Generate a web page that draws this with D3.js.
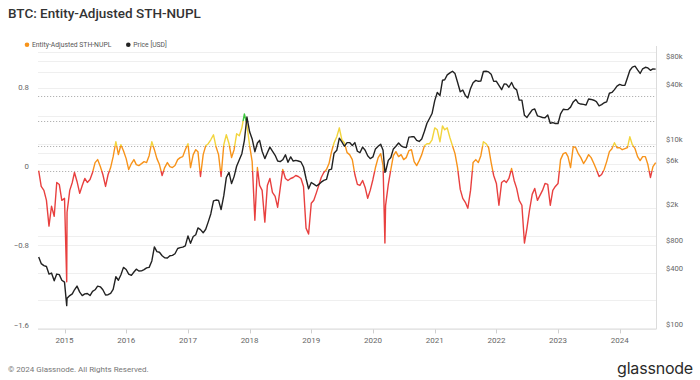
<!DOCTYPE html>
<html><head><meta charset="utf-8">
<script src="https://cdn.jsdelivr.net/npm/d3@7"></script>
<style>
body{margin:0;background:#fff;}
svg{display:block;font-family:Roboto,Inter,"Open Sans",sans-serif;}
</style>
</head><body>
<svg id="c" width="700" height="380"></svg>
<script>
// ---------------- DATA ----------------
const dates = [
 "2014-08-01","2014-08-16","2014-09-01","2014-09-16","2014-10-01","2014-10-16","2014-11-01","2014-11-16","2014-12-01","2014-12-16",
 "2015-01-01","2015-01-14","2015-01-16","2015-02-01","2015-02-16","2015-03-01","2015-03-16","2015-04-01","2015-04-16","2015-05-01","2015-05-16","2015-06-01","2015-06-16","2015-07-01","2015-07-16","2015-08-01","2015-08-16","2015-09-01","2015-09-16","2015-10-01","2015-10-16","2015-11-01","2015-11-16","2015-12-01","2015-12-16",
 "2016-01-01","2016-01-16","2016-02-01","2016-02-16","2016-03-01","2016-03-16","2016-04-01","2016-04-16","2016-05-01","2016-05-16","2016-06-01","2016-06-16","2016-07-01","2016-07-16","2016-08-01","2016-08-16","2016-09-01","2016-09-16","2016-10-01","2016-10-16","2016-11-01","2016-11-16","2016-12-01","2016-12-16",
 "2017-01-01","2017-01-16","2017-02-01","2017-02-16","2017-03-01","2017-03-16","2017-04-01","2017-04-16","2017-05-01","2017-05-16","2017-06-01","2017-06-16","2017-07-01","2017-07-16","2017-08-01","2017-08-16","2017-09-01","2017-09-16","2017-10-01","2017-10-16","2017-11-01","2017-11-16","2017-12-01","2017-12-16",
 "2018-01-01","2018-01-16","2018-02-01","2018-02-16","2018-03-01","2018-03-16","2018-04-01","2018-04-16","2018-05-01","2018-05-16","2018-06-01","2018-06-16","2018-07-01","2018-07-16","2018-08-01","2018-08-16","2018-09-01","2018-09-16","2018-10-01","2018-10-16","2018-11-01","2018-11-16","2018-12-01","2018-12-16",
 "2019-01-01","2019-01-16","2019-02-01","2019-02-16","2019-03-01","2019-03-16","2019-04-01","2019-04-16","2019-05-01","2019-05-16","2019-06-01","2019-06-16","2019-07-01","2019-07-16","2019-08-01","2019-08-16","2019-09-01","2019-09-16","2019-10-01","2019-10-16","2019-11-01","2019-11-16","2019-12-01","2019-12-16",
 "2020-01-01","2020-01-16","2020-02-01","2020-02-16","2020-03-01","2020-03-12","2020-03-16","2020-04-01","2020-04-16","2020-05-01","2020-05-16","2020-06-01","2020-06-16","2020-07-01","2020-07-16","2020-08-01","2020-08-16","2020-09-01","2020-09-16","2020-10-01","2020-10-16","2020-11-01","2020-11-16","2020-12-01","2020-12-16",
 "2021-01-01","2021-01-16","2021-02-01","2021-02-16","2021-03-01","2021-03-16","2021-04-01","2021-04-16","2021-05-01","2021-05-16","2021-06-01","2021-06-16","2021-07-01","2021-07-16","2021-08-01","2021-08-16","2021-09-01","2021-09-16","2021-10-01","2021-10-16","2021-11-01","2021-11-16","2021-12-01","2021-12-16",
 "2022-01-01","2022-01-16","2022-02-01","2022-02-16","2022-03-01","2022-03-16","2022-04-01","2022-04-16","2022-05-01","2022-05-16","2022-06-01","2022-06-16","2022-07-01","2022-07-16","2022-08-01","2022-08-16","2022-09-01","2022-09-16","2022-10-01","2022-10-16","2022-11-01","2022-11-16","2022-12-01","2022-12-16",
 "2023-01-01","2023-01-16","2023-02-01","2023-02-16","2023-03-01","2023-03-16","2023-04-01","2023-04-16","2023-05-01","2023-05-16","2023-06-01","2023-06-16","2023-07-01","2023-07-16","2023-08-01","2023-08-16","2023-09-01","2023-09-16","2023-10-01","2023-10-16","2023-11-01","2023-11-16","2023-12-01","2023-12-16",
 "2024-01-01","2024-01-16","2024-02-01","2024-02-16","2024-03-01","2024-03-16","2024-04-01","2024-04-16","2024-05-01","2024-05-16","2024-06-01","2024-06-16","2024-07-01","2024-07-16","2024-08-01"
];

// Entity-Adjusted STH-NUPL
const nupl = [
 0.00,-0.16,-0.20,-0.30,-0.56,-0.36,-0.46,-0.12,-0.14,-0.30,
 -0.28,-1.12,-0.42,-0.20,-0.12,-0.02,-0.11,-0.23,-0.15,-0.08,-0.12,-0.09,-0.02,0.08,0.11,0.04,-0.04,-0.16,-0.04,0.03,0.14,0.29,0.16,0.26,0.20,
 0.12,0.01,0.07,0.11,0.06,0.05,0.07,0.09,0.08,0.15,0.29,0.21,0.12,0.06,-0.05,0.03,0.08,0.04,0.03,0.05,0.11,0.13,0.14,0.21,
 0.27,0.03,0.16,0.21,0.19,-0.06,0.16,0.25,0.27,0.31,0.36,0.24,0.16,-0.06,0.26,0.36,0.27,0.13,0.21,0.37,0.35,0.43,0.57,0.46,
 0.25,0.09,-0.50,0.03,-0.15,-0.20,-0.52,-0.15,-0.08,-0.22,-0.26,-0.37,-0.18,0.01,-0.08,-0.10,-0.08,-0.07,-0.05,-0.06,-0.08,-0.16,-0.58,-0.64,
 -0.33,-0.30,-0.22,-0.14,-0.07,-0.02,0.01,0.07,0.19,0.28,0.34,0.43,0.31,0.28,0.18,0.16,0.11,-0.04,-0.14,-0.15,-0.10,-0.17,-0.28,-0.20,
 -0.09,0.03,0.13,0.17,0.05,-0.73,-0.35,-0.14,0.01,0.15,0.19,0.14,0.16,0.11,0.13,0.20,0.21,0.09,0.05,0.10,0.16,0.25,0.27,0.27,0.31,
 0.43,0.41,0.29,0.45,0.41,0.43,0.33,0.25,0.17,0.03,-0.19,-0.28,-0.32,-0.38,-0.20,0.08,0.11,0.08,0.15,0.29,0.27,0.23,0.08,-0.05,
 -0.13,-0.35,-0.12,-0.10,-0.12,-0.08,0.02,-0.10,-0.18,-0.30,-0.35,-0.73,-0.58,-0.40,-0.24,-0.18,-0.30,-0.25,-0.20,-0.13,-0.14,-0.35,-0.20,-0.16,
 -0.13,0.11,0.17,0.18,0.14,0.03,0.24,0.23,0.17,0.13,0.07,0.11,0.16,0.13,0.07,0.01,-0.06,-0.04,0.01,0.09,0.19,0.22,0.28,0.23,
 0.23,0.21,0.22,0.23,0.34,0.26,0.22,0.14,0.10,0.14,0.14,0.06,-0.07,0.04,0.08
];

// Price [USD]
const price = [
 590,500,475,465,385,395,325,385,380,330,
 315,175,210,225,235,260,285,245,225,235,237,225,250,260,285,280,260,228,230,237,262,360,330,378,455,
 432,385,373,405,435,416,417,430,450,455,535,760,675,665,608,578,575,608,615,640,730,745,755,780,
 1000,830,985,1030,1220,1170,1080,1180,1420,1730,2400,2450,2430,1930,2730,4300,4900,3700,4400,5700,6700,7800,10900,19500,
 13500,11300,8200,10200,10900,8300,6900,8000,9200,8300,7500,6500,6400,6700,7600,6300,7200,6500,6600,6500,6350,5600,4200,3250,
 3800,3650,3480,3650,3830,4000,4100,5200,5300,7900,8500,11500,10500,9400,10300,10300,9600,10300,8300,8000,9200,8500,7400,6900,
 7200,8800,9400,9900,8500,4900,5000,6600,7100,8800,9400,10200,9500,9200,9100,11800,11900,11900,10900,10600,11300,13700,16700,18800,21300,
 29400,36000,33500,49000,49600,56000,58900,61300,57800,46500,36700,38300,33500,31500,39900,46000,48800,47700,48100,60900,61300,60300,57000,47600,
 47700,43100,38700,44500,44400,41100,46300,40400,38500,29800,29800,20400,19300,21200,23300,23900,20100,19700,19300,19200,20500,16700,17000,16600,
 16600,21100,23700,23500,23600,25000,28500,30300,27600,27000,26800,26300,30600,30300,29700,28700,25800,26600,27900,28500,35400,36100,38700,42300,
 44200,43100,43100,52100,62400,68000,69700,63400,58000,65200,67700,66600,62700,65000,64600
];

const leftTicks = [0.8, 0, -0.8, -1.6];
const rightTicks = [100, 400, 800, 2000, 6000, 10000, 40000, 80000];
const rightTickLabels = ["$100","$400","$800","$2k","$6k","$10k","$40k","$80k"];
const priceGrid = [200, 1000, 8000, 20000, 60000, 100000];
const thresholds = [0, 0.25, 0.5, 0.75];
const years = ["2015","2016","2017","2018","2019","2020","2021","2022","2023","2024"];
const bandColors = {blue:"#3d7fe0", green:"#3fc63f", yellow:"#f2d43c", orange:"#f7931a", red:"#e8403f"};

// ---------------- CHART ----------------
const parse = d3.timeParse("%Y-%m-%d");
const rows = dates.map((d,i)=>({date:parse(d), v:nupl[i], p:price[i]}));

const svg = d3.select("#c");
const X0 = 38, X1 = 656;
const x = d3.scaleTime().domain([parse("2014-07-28"), parse("2024-08-03")]).range([X0, X1]);
const yL = d3.scaleLinear().domain([-1.6, 0.8]).range([329.4, 91.1]);
const yR = d3.scaleLog().domain([100, 80000]).range([328, 60.6]);
const BOTTOM = 329.4;

// light gridlines
const gridVals = rightTicks.concat(priceGrid);
svg.append("g").selectAll("line").data(gridVals).join("line")
  .attr("x1", X0).attr("x2", X1)
  .attr("y1", d=>Math.round(yR(d))+0.5).attr("y2", d=>Math.round(yR(d))+0.5)
  .attr("stroke", "#efefef").attr("stroke-width", 1);

// threshold dotted lines
svg.append("g").selectAll("line").data(thresholds).join("line")
  .attr("x1", X0).attr("x2", X1)
  .attr("y1", d=>Math.round(yL(d))+0.5).attr("y2", d=>Math.round(yL(d))+0.5)
  .attr("stroke", "#a0a0a0").attr("stroke-width", 0.8).attr("stroke-dasharray", "1.2,1.8");

// bottom axis line & right border
svg.append("line").attr("x1", X0).attr("x2", X1).attr("y1", BOTTOM).attr("y2", BOTTOM)
  .attr("stroke", "#e2e2e2");
svg.append("line").attr("x1", X1+0.5).attr("x2", X1+0.5).attr("y1", 46).attr("y2", BOTTOM)
  .attr("stroke", "#dcdcdc");

// year ticks & labels
const yearDates = years.map(y=>parse(y+"-01-01"));
svg.append("g").selectAll("line").data(yearDates).join("line")
  .attr("x1", d=>Math.round(x(d))+0.5).attr("x2", d=>Math.round(x(d))+0.5)
  .attr("y1", BOTTOM).attr("y2", BOTTOM+4).attr("stroke", "#cfcfcf");
svg.append("g").selectAll("text").data(years).join("text")
  .attr("x", (d,i)=>x(yearDates[i])).attr("y", 343)
  .attr("text-anchor", "middle").attr("font-size", 8).attr("fill", "#666")
  .text(d=>d);

// left axis labels
svg.append("g").selectAll("text").data(leftTicks).join("text")
  .attr("x", 29).attr("y", d=>yL(d)-1.5)
  .attr("text-anchor", "end").attr("font-size", 7.8).attr("fill", "#666")
  .text(d=>d===0?"0":d3.format(".1f")(d));

// right axis labels
svg.append("g").selectAll("text").data(rightTicks).join("text")
  .attr("x", 666).attr("y", d=>yR(d)-1.5)
  .attr("text-anchor", "start").attr("font-size", 7.6).attr("fill", "#666")
  .text((d,i)=>rightTickLabels[i]);

// gradient for NUPL coloring by value
const defs = svg.append("defs");
const gTop = yL(1.3), gBot = yL(-1.6);
const off = v => (yL(v)-gTop)/(gBot-gTop);
const stops = [
  [0, bandColors.blue],[off(0.75), bandColors.blue],
  [off(0.75), bandColors.green],[off(0.5), bandColors.green],
  [off(0.5), bandColors.yellow],[off(0.25), bandColors.yellow],
  [off(0.25), bandColors.orange],[off(0), bandColors.orange],
  [off(0), bandColors.red],[1, bandColors.red]
];
const grad = defs.append("linearGradient").attr("id","nuplGrad")
  .attr("gradientUnits","userSpaceOnUse")
  .attr("x1",0).attr("x2",0).attr("y1",gTop).attr("y2",gBot);
grad.selectAll("stop").data(stops).join("stop")
  .attr("offset", d=>d[0]).attr("stop-color", d=>d[1]);

// NUPL line
svg.append("path").datum(rows)
  .attr("fill","none").attr("stroke","url(#nuplGrad)").attr("stroke-width",1.4)
  .attr("stroke-linejoin","round")
  .attr("d", d3.line().x(d=>x(d.date)).y(d=>yL(d.v)));

// Price line
svg.append("path").datum(rows)
  .attr("fill","none").attr("stroke","#222").attr("stroke-width",1.4)
  .attr("stroke-linejoin","round")
  .attr("d", d3.line().x(d=>x(d.date)).y(d=>yR(d.p)));

// title
svg.append("text").attr("x", 8).attr("y", 17.5).attr("font-size", 13.5).attr("font-weight", 500)
  .attr("fill", "#333").text("BTC: Entity-Adjusted STH-NUPL");

// legend
const legend = [
  {label:"Entity-Adjusted STH-NUPL", color:bandColors.orange, x:27},
  {label:"Price [USD]", color:"#222", x:128.3}
];
const lg = svg.append("g").selectAll("g").data(legend).join("g");
lg.append("circle").attr("cx", d=>d.x).attr("cy", 44.7).attr("r", 2.3).attr("fill", d=>d.color);
lg.append("text").attr("x", d=>d.x+5).attr("y", 47).attr("font-size", 6.8).attr("fill", "#555")
  .text(d=>d.label);

// footer
svg.append("text").attr("x", 8).attr("y", 372).attr("font-size", 8).attr("fill", "#777")
  .text("© 2024 Glassnode. All Rights Reserved.");
svg.append("text").attr("x", 693).attr("y", 374).attr("text-anchor","end")
  .attr("font-family", "Inter, sans-serif")
  .attr("font-size", 16).attr("fill", "#2a2a2a").attr("letter-spacing", -0.2)
  .text("glassnode");
</script>
</body></html>
